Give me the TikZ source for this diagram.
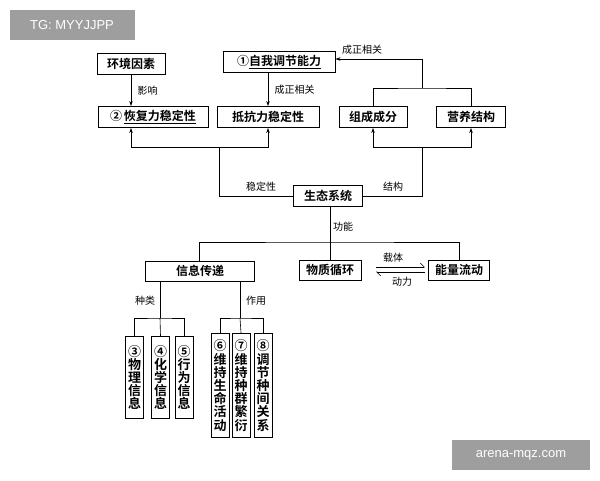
\documentclass[tikz,border=0pt]{standalone}
\usepackage{fontspec}
\setmainfont{Noto Sans CJK SC}[BoldFont={Noto Sans CJK SC Bold}]
\newfontfamily\wmfont{Liberation Sans}
\usetikzlibrary{arrows.meta}
\begin{document}
\begin{tikzpicture}[x=1pt,y=-1pt,
 box/.style={draw,line width=0.9pt,inner sep=2pt,font=\bfseries\fontsize{12}{13}\selectfont,minimum height=21pt},
 vbox/.style={draw,line width=0.9pt,inner sep=1.5pt,font=\bfseries\fontsize{13}{13.2}\selectfont,align=center,anchor=north,minimum width=18pt},
 ln/.style={line width=0.6pt},
 ar/.style={ln,-{Stealth[length=5pt,width=3.5pt]}},
 lab/.style={font=\fontsize{10}{11}\selectfont},
 wm/.style={fill=black!38,text=white,font=\wmfont\fontsize{13}{14}\selectfont,inner sep=0pt}]
\useasboundingbox (0,0) rectangle (600,480);
\node[wm,minimum width=125pt,minimum height=30pt] (w1) at (72,25) {TG: MYYJJPP};
\node[wm,minimum width=138pt,minimum height=30pt] (w2) at (521,455) {arena-mqz.com};
\node[box,minimum width=68pt] (env) at (131,64) {环境因素};
\node[box,minimum width=112pt] (zw) at (279,62) {①\underline{自我调节能力}};
\node[box,minimum width=110pt] (hf) at (153,117) {②\,\underline{恢复力稳定性}};
\node[box,minimum width=102pt] (dk) at (268,117) {抵抗力稳定性};
\node[box,minimum width=68pt] (zc) at (373,117) {组成成分};
\node[box,minimum width=69pt] (yy) at (471,117) {营养结构};
\node[box,minimum width=69pt] (st) at (328,196) {生态系统};
\node[box,minimum width=109pt,minimum height=20pt] (xx) at (200,271) {信息传递};
\node[box,minimum width=62pt,minimum height=20pt] (wz) at (330,270) {物质循环};
\node[box,minimum width=61pt,minimum height=20pt] (nl) at (459,270) {能量流动};
\node[vbox,minimum height=82pt] (b3) at (134.5,336) {③\\物\\理\\信\\息};
\node[vbox,minimum height=82pt] (b4) at (160.5,336) {④\\化\\学\\信\\息};
\node[vbox,minimum height=82pt] (b5) at (184,336) {⑤\\行\\为\\信\\息};
\node[vbox,minimum height=104pt] (b6) at (220,333) {⑥\\维\\持\\生\\命\\活\\动};
\node[vbox,minimum height=104pt] (b7) at (241,333) {⑦\\维\\持\\种\\群\\繁\\衍};
\node[vbox,minimum height=104pt] (b8) at (263,333) {⑧\\调\\节\\种\\间\\关\\系};
% arrows top
\draw[ar] (env) -- (hf.north -| env) node[lab,midway,right=3pt]{影响};
\draw[ar] (zw.south -| dk) -- (dk) node[lab,midway,right=3pt]{成正相关};
\draw[ln] (st.west) -- (219,196) -- (219,147);
\draw[ar] (219,147) -| (hf.south -| env);
\draw[ar] (219,147) -| (dk.south);
\node[lab] at (261,187) {稳定性};
\draw[ln] (st.east) -- (422,196) -- (422,147);
\draw[ar] (422,147) -| (zc.south);
\draw[ar] (422,147) -| (yy.south);
\node[lab] at (393,187) {结构};
\draw[ln] (zc.north) |- (422,88) -| (yy.north);
\draw[ar] (422,88) |- (zw.east |- 0,59);
\node[lab] at (362,50) {成正相关};
% function
\draw[ln] (st.south -| 330,0) -- (330,242);
\node[lab] at (343,227) {功能};
\draw[ln] (xx.north -| 199,0) |- (330,242) -| (nl.north);
\draw[ln] (330,242) -- (wz.north);
\draw[ln,-{Straight Barb[left,length=4pt]}] (376,267) -- (425,267);
\draw[ln,-{Straight Barb[left,length=4pt]}] (425,272) -- (376,272);
\node[lab] at (393,258) {载体};
\node[lab] at (402,282) {动力};
% info
\draw[ln] (xx.south -| 160,0) -- (160,318);
\node[lab] at (145,301) {种类};
\draw[ln] (b3.north) |- (160,318) -| (b5.north);
\draw[ln] (160,318) -- (b4.north);
\draw[ln] (xx.south -| 240,0) -- (240,318);
\node[lab] at (256,301) {作用};
\draw[ln] (b6.north) |- (240,318) -| (b8.north);
\draw[ln] (240,318) -- (b7.north);
\end{tikzpicture}
\end{document}
